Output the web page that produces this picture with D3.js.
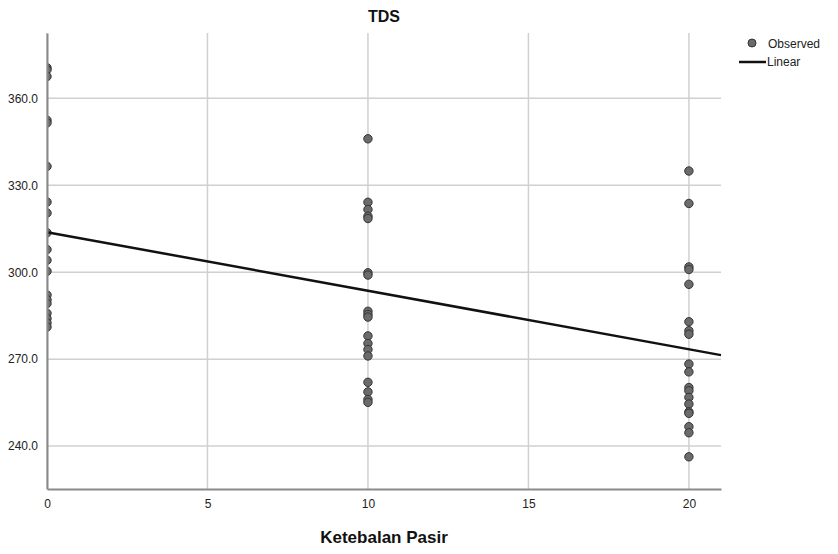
<!DOCTYPE html>
<html>
<head>
<meta charset="utf-8">
<script src="https://cdn.jsdelivr.net/npm/d3@7"></script>
<style>
body { margin:0; background:#fff; }
text { font-family: "Liberation Sans", Arial, sans-serif; }
</style>
</head>
<body>
<div id="chart"></div>
<script>
// ketebalan pasir groups and observed TDS
var groupX = [0, 10, 20];
var tds0 = [370.5, 369.8, 367.5, 352.4, 351.5, 336.5, 324.2, 320.4, 313.6, 307.8, 304.1, 300.3, 292.1, 290.5, 289.2, 285.8, 284.0, 282.5, 281.1];
var tds10 = [346.0, 324.1, 321.6, 319.3, 318.5, 299.8, 299.0, 286.5, 285.4, 284.5, 278.0, 275.4, 273.3, 271.1, 262.0, 258.7, 256.1, 255.1];
var tds20 = [334.9, 323.7, 301.8, 300.9, 295.8, 282.9, 279.8, 278.6, 268.3, 265.6, 260.2, 259.1, 256.8, 254.5, 251.8, 251.3, 246.7, 244.6, 236.3];
var xTicks = [0, 5, 10, 15, 20];
var yTicks = [240, 270, 300, 330, 360];
// linear fit
var intercept = 313.8;
var slope = -2.02;

var margin = {top: 33, bottom: 65, right: 117, left: 47};
var width = 838 - margin.left - margin.right;
var height = 554 - margin.top - margin.bottom;

var svg = d3.select("#chart")
.append("svg")
.attr("width", 838)
.attr("height", 554);

svg.append("defs").append("clipPath").attr("id", "plotClip")
.append("rect").attr("x", 0).attr("y", 0).attr("width", width).attr("height", height);

var g = svg.append("g")
.attr("transform", "translate("+margin.left+","+margin.top+")");

var x = d3.scaleLinear().domain([0, 21]).range([0, width]);
var y = d3.scaleLinear().domain([225.2, 382.5]).range([height, 0]);

// grid
g.append("g").selectAll("line")
.data(xTicks).enter().append("line")
.attr("x1", function(d){return x(d)}).attr("x2", function(d){return x(d)})
.attr("y1", 0).attr("y2", height)
.attr("stroke", "#d0d0d0").attr("stroke-width", 1.5);

g.append("g").selectAll("line")
.data(yTicks).enter().append("line")
.attr("x1", 0).attr("x2", width)
.attr("y1", function(d){return y(d)}).attr("y2", function(d){return y(d)})
.attr("stroke", "#d0d0d0").attr("stroke-width", 1.5);

// points
var points = [];
[tds0, tds10, tds20].forEach(function(arr, i){
  arr.forEach(function(v){ points.push({x: groupX[i], y: v}); });
});

g.append("g").attr("clip-path", "url(#plotClip)")
.selectAll("circle")
.data(points).enter().append("circle")
.attr("cx", function(d){return x(d.x)})
.attr("cy", function(d){return y(d.y)})
.attr("r", 4.2)
.attr("fill", "#6b6b6b")
.attr("stroke", "#333")
.attr("stroke-width", 1);

// fit line
g.append("line")
.attr("x1", x(0)).attr("y1", y(intercept))
.attr("x2", x(21)).attr("y2", y(intercept + slope*21))
.attr("stroke", "#111").attr("stroke-width", 2.5);

// axes
var xAxis = g.append("g")
.attr("transform", "translate(0,"+height+")")
.call(d3.axisBottom(x).tickValues(xTicks).tickSize(0).tickPadding(10).tickFormat(d3.format("d")));
var yAxis = g.append("g")
.call(d3.axisLeft(y).tickValues(yTicks).tickSize(0).tickPadding(9).tickFormat(d3.format(".1f")));
[xAxis, yAxis].forEach(function(a){
  a.select(".domain").attr("stroke", "#8a8a8a").attr("stroke-width", 2);
  a.selectAll("text").attr("fill", "#222").style("font-size", "12px").style("font-family", "Liberation Sans, Arial, sans-serif");
});

// labels
svg.append("text")
.text("TDS")
.attr("x", margin.left+width/2).attr("y", 22)
.attr("text-anchor", "middle")
.style("font-weight", "bold").style("font-size", "16px").attr("fill", "#111");

svg.append("text")
.text("Ketebalan Pasir")
.attr("x", margin.left+width/2).attr("y", 543)
.attr("text-anchor", "middle")
.style("font-weight", "bold").style("font-size", "17px").attr("fill", "#111");

// legend
var legend = svg.append("g");
legend.append("circle").attr("cx", 752).attr("cy", 43).attr("r", 4)
.attr("fill", "#6b6b6b").attr("stroke", "#333");
legend.append("text").text("Observed").attr("x", 768).attr("y", 48)
.style("font-size", "12px").attr("fill", "#222");
legend.append("line").attr("x1", 739).attr("x2", 766).attr("y1", 62).attr("y2", 62)
.attr("stroke", "#111").attr("stroke-width", 2.5);
legend.append("text").text("Linear").attr("x", 767).attr("y", 66)
.style("font-size", "12px").attr("fill", "#222");
</script>
</body>
</html>
